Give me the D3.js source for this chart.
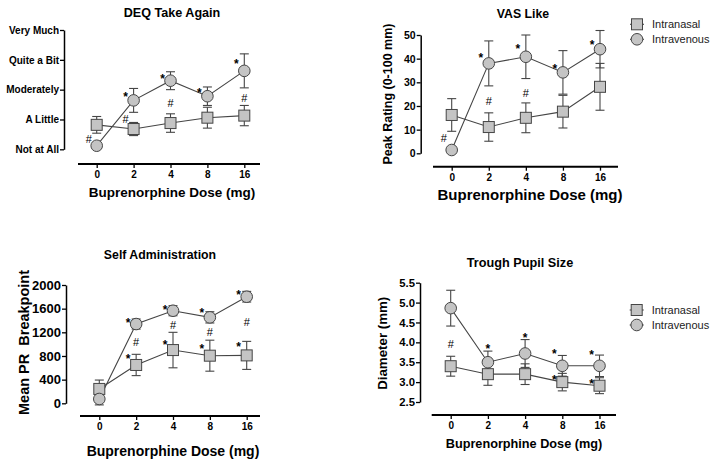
<!DOCTYPE html>
<html><head><meta charset="utf-8">
<script src="https://cdn.jsdelivr.net/npm/d3@7"></script>
<style>body{margin:0;background:#fff} svg{display:block;font-family:Arial,"Liberation Sans",sans-serif}</style>
</head><body><svg id="c" width="714" height="464"></svg>
<script>
// ---------- DATA ----------
const doses = ["0", "2", "4", "8", "16"];
const seriesNames = ["Intranasal", "Intravenous"];

// DEQ Take Again (0 = Not at All ... 4 = Very Much)
const deqLevels = ["Not at All", "A Little", "Moderately", "Quite a Bit", "Very Much"];
const deqIN = [0.82, 0.68, 0.88, 1.06, 1.13];
const deqINErr = [0.28, 0.22, 0.31, 0.35, 0.34];
const deqIV = [0.12, 1.64, 2.30, 1.78, 2.63];
const deqIVErr = [0.08, 0.40, 0.30, 0.31, 0.57];
const deqNotes = [["0", "#", 0.36, "l"], ["2", "*", 1.85, "l"], ["2", "#", 1.02, "l"], ["4", "*", 2.46, "l"],
  ["4", "#", 1.55, "c"], ["8", "*", 1.99, "l"], ["16", "#", 1.72, "c"], ["16", "*", 2.94, "l"]];

// VAS Like
const vasTicks = [0, 10, 20, 30, 40, 50];
const vasIN = [16.2, 11.1, 15.0, 17.6, 28.1];
const vasINErr = [6.9, 6.0, 6.3, 6.9, 9.9];
const vasIV = [1.4, 38.0, 40.8, 34.2, 44.0];
const vasIVErr = [0.8, 9.5, 9.2, 9.2, 7.9];
const vasNotes = [["0", "#", 6.3, "l"], ["2", "*", 41.5, "l"], ["2", "#", 22.2, "c"], ["4", "*", 45.0, "l"],
  ["4", "#", 25.3, "c"], ["8", "*", 36.9, "l"], ["16", "*", 46.7, "l"]];

// Self Administration
const saTicks = [0, 400, 800, 1200, 1600, 2000];
const saIN = [243, 648, 900, 805, 810];
const saINErr = [150, 180, 300, 262, 237];
const saIV = [73, 1340, 1565, 1453, 1802];
const saIVErr = [100, 85, 85, 95, 90];
const saNotes = [["2", "*", 1396, "l"], ["2", "#", 1041, "c"], ["2", "*", 788, "l"],
  ["4", "*", 1622, "l"], ["4", "#", 1323, "c"], ["4", "*", 1024, "l"],
  ["8", "*", 1577, "l"], ["8", "#", 1200, "c"], ["8", "*", 968, "l"],
  ["16", "*", 1869, "l"], ["16", "#", 1369, "c"], ["16", "*", 1002, "l"]];

// Trough Pupil Size
const pupilTicks = [2.5, 3.0, 3.5, 4.0, 4.5, 5.0, 5.5];
const pupilIN = [3.40, 3.20, 3.20, 3.00, 2.91];
const pupilINErr = [0.25, 0.28, 0.26, 0.22, 0.20];
const pupilIV = [4.86, 3.50, 3.72, 3.41, 3.41];
const pupilIVErr = [0.45, 0.28, 0.35, 0.26, 0.27];
const pupilNotes = [["0", "#", 3.955, "c"], ["2", "*", 3.905, "c"], ["4", "*", 4.163, "c"],
  ["8", "*", 3.779, "l"], ["16", "*", 3.737, "l"], ["8", "*", 3.12, "l"], ["16", "*", 3.01, "l"]];

// ---------- DRAW ----------
const svg = d3.select("#c");
const FILL = "#c4c4c4", STROKE = "#454545";

function marker(g, shape, cx, cy) {
  if (shape === "square") {
    g.append("rect").attr("x", cx - 5.5).attr("y", cy - 5.5).attr("width", 11).attr("height", 11)
      .attr("fill", FILL).attr("stroke", STROKE).attr("stroke-width", 1);
  } else {
    g.append("circle").attr("cx", cx).attr("cy", cy).attr("r", 5.8)
      .attr("fill", FILL).attr("stroke", STROKE).attr("stroke-width", 1);
  }
}

function panel(c) {
  const g = svg.append("g");
  const x = d3.scalePoint().domain(doses).range(c.xr);
  const y = d3.scaleLinear().domain(c.yd).range(c.yr);

  // title
  g.append("text").attr("x", c.title[1]).attr("y", c.title[2]).attr("text-anchor", "middle")
    .attr("font-weight", "bold").attr("font-size", c.title[3]).text(c.title[0]);

  // y axis
  const ya = d3.axisLeft(y).tickValues(c.yTicks).tickFormat(c.yFmt).tickSize(4).tickSizeOuter(0).tickPadding(c.tp);
  const yg = g.append("g").attr("transform", `translate(${c.yx},0)`).call(ya);
  yg.select(".domain").attr("stroke", "#000").attr("stroke-width", 1.5);
  yg.selectAll(".tick line").attr("stroke", "#000").attr("stroke-width", 1.3);
  yg.selectAll("text").attr("font-family", "Arial, Liberation Sans, sans-serif").attr("font-weight", "bold")
    .attr("font-size", c.yfs).attr("fill", "#000");

  // x axis
  const xa = d3.axisBottom(x).tickSize(4).tickSizeOuter(0).tickPadding(3);
  const xg = g.append("g").attr("transform", `translate(0,${c.xy})`).call(xa);
  xg.select(".domain").remove();
  xg.append("line").attr("x1", c.xl[0]).attr("x2", c.xl[1]).attr("y1", 0).attr("y2", 0)
    .attr("stroke", "#000").attr("stroke-width", 2);
  xg.selectAll(".tick line").attr("stroke", "#000").attr("stroke-width", 1.3);
  xg.selectAll("text").attr("font-family", "Arial, Liberation Sans, sans-serif").attr("font-weight", "bold")
    .attr("font-size", c.xfs).attr("fill", "#000");

  // axis titles
  g.append("text").attr("x", c.xt[0]).attr("y", c.xt[1]).attr("text-anchor", "middle")
    .attr("font-weight", "bold").attr("font-size", c.xt[2]).text("Buprenorphine Dose (mg)");
  if (c.yt) {
    g.append("text").attr("transform", `translate(${c.yt[1]},${c.yt[2]}) rotate(-90)`)
      .attr("text-anchor", "middle").attr("font-weight", "bold").attr("font-size", c.yt[3])
      .attr("style", "white-space:pre").text(c.yt[0]);
  }

  const series = [
    {v: c.inV, e: c.inE, shape: "square"},
    {v: c.ivV, e: c.ivE, shape: "circle"}
  ];
  const line = d3.line().x((d, i) => x(doses[i])).y(d => y(d));
  series.forEach(s => {
    g.append("path").attr("d", line(s.v)).attr("fill", "none").attr("stroke", STROKE).attr("stroke-width", 1.1);
  });
  series.forEach(s => {
    s.v.forEach((v, i) => {
      const cx = x(doses[i]), y1 = y(v - s.e[i]), y2 = y(v + s.e[i]);
      g.append("line").attr("x1", cx).attr("x2", cx).attr("y1", y1).attr("y2", y2).attr("stroke", STROKE).attr("stroke-width", 1.1);
      [y1, y2].forEach(yy => g.append("line").attr("x1", cx - 4.5).attr("x2", cx + 4.5).attr("y1", yy).attr("y2", yy)
        .attr("stroke", STROKE).attr("stroke-width", 1.1));
    });
  });
  series.forEach(s => {
    s.v.forEach((v, i) => marker(g, s.shape, x(doses[i]), y(v)));
  });

  // significance marks
  c.notes.forEach(n => {
    const star = n[1] === "*";
    const cx = x(n[0]) + (n[3] === "l" ? -8 : 0);
    const fs = star ? 12 : 11;
    const cy = y(n[2]) + (star ? 0.55 * fs : 0.36 * fs);
    g.append("text").attr("x", cx).attr("y", cy).attr("text-anchor", "middle")
      .attr("font-size", fs).attr("font-weight", star ? "bold" : "normal").attr("fill", "#000").text(n[1]);
  });

  // legend
  if (c.legend) {
    series.forEach((s, i) => {
      const ly = c.legend[1] + i * 15;
      g.append("line").attr("x1", c.legend[0] - 7).attr("x2", c.legend[0] + 7).attr("y1", ly).attr("y2", ly)
        .attr("stroke", STROKE).attr("stroke-width", 1.1);
      marker(g, s.shape, c.legend[0], ly);
      g.append("text").attr("x", c.legend[0] + 15).attr("y", ly + 4).attr("font-size", 11)
        .attr("fill", "#222").text(seriesNames[i]);
    });
  }
}

panel({
  title: ["DEQ Take Again", 172, 17, 12.6],
  xr: [96.7, 244.3], yd: [0, 4], yr: [149.3, 30], yx: 64,
  yTicks: [0, 1, 2, 3, 4], yFmt: d => deqLevels[d], yfs: 10, tp: 1,
  xy: 164, xl: [78, 260], xfs: 10, xt: [172, 197, 13.5],
  inV: deqIN, inE: deqINErr, ivV: deqIV, ivE: deqIVErr, notes: deqNotes
});
panel({
  title: ["VAS Like", 523, 18, 12.3],
  xr: [451.7, 600], yd: [0, 50], yr: [153.3, 35], yx: 420.7,
  yTicks: vasTicks, yFmt: d3.format("d"), yfs: 10.5, tp: 1,
  xy: 166.7, xl: [433, 618], xfs: 10, xt: [530, 200, 15],
  yt: ["Peak Rating (0-100 mm)", 392, 94, 12.5],
  inV: vasIN, inE: vasINErr, ivV: vasIV, ivE: vasIVErr, notes: vasNotes, legend: [637, 24.3]
});
panel({
  title: ["Self Administration", 160, 259, 12.3],
  xr: [99.3, 246.7], yd: [0, 2000], yr: [403.3, 285], yx: 66,
  yTicks: saTicks, yFmt: d3.format("d"), yfs: 13, tp: 1,
  xy: 416, xl: [80, 260], xfs: 10, xt: [173, 456, 14],
  yt: ["Mean PR  Breakpoint", 29, 342.5, 14.5],
  inV: saIN, inE: saINErr, ivV: saIV, ivE: saIVErr, notes: saNotes
});
panel({
  title: ["Trough Pupil Size", 520, 267, 12.7],
  xr: [450.7, 599.5], yd: [2.5, 5.5], yr: [402, 282.7], yx: 420,
  yTicks: pupilTicks, yFmt: d3.format(".1f"), yfs: 11.3, tp: 1,
  xy: 415, xl: [431.7, 616], xfs: 10, xt: [524, 448, 12.7],
  yt: ["Diameter (mm)", 387, 343.3, 13.3],
  inV: pupilIN, inE: pupilINErr, ivV: pupilIV, ivE: pupilIVErr, notes: pupilNotes, legend: [636.7, 310]
});
</script></body></html>
